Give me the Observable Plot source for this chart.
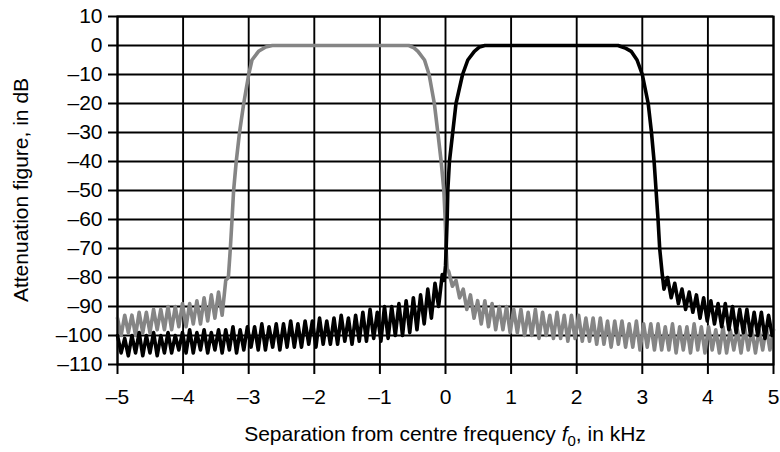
<!DOCTYPE html>
<html><head><meta charset="utf-8">
<script src="https://cdn.jsdelivr.net/npm/d3@7"></script>
<script src="https://cdn.jsdelivr.net/npm/@observablehq/plot@0.6"></script>
<style>body{margin:0;background:#fff;}</style>
</head><body><div id="chart"></div>
<script>
// Tick values
const xTicks = [-5,-4,-3,-2,-1,0,1,2,3,4,5];
const yTicks = [-110,-100,-90,-80,-70,-60,-50,-40,-30,-20,-10,0,10];

// Regularly sampled noise segments (kHz start, sample step in kHz, dB values)
const noiseStep = 0.055;

// Black trace (upper sideband filter)
const blackLeftStart = -5.0;
const blackLeftNoise = [
 -100,-106,-101,-107,-100,-106,-99,-107,-100,-106,
 -99,-107,-100,-106,-99,-106,-100,-105,-99,-106,
 -98,-106,-99,-105,-98,-106,-99,-105,-98,-106,
 -98,-105,-97,-106,-98,-105,-97,-104,-97,-105,
 -96,-105,-97,-104,-96,-105,-96,-104,-95,-104,
 -96,-104,-95,-103,-95,-104,-94,-103,-95,-103,
 -94,-103,-93,-102,-94,-103,-93,-102,-92,-102,
 -91,-101,-92,-102,-90,-101,-90,-100,-89,-100,
 -88,-99,-87,-98,-86,-96,-84,-94,-82,-90,
 -79];
const blackEdgeX = [-0.02,0.0,0.01,0.025,0.035,0.06,0.11,0.16,0.26,0.34,0.44,0.52,0.6,
  2.63,2.75,2.83,2.92,3.0,3.09,3.14,3.18,3.21,3.24,3.265,3.3];
const blackEdgeY = [-81,-76,-70,-60,-50,-40,-30,-20,-10,-5,-2,-0.5,0,
  0,-1,-2,-5,-10,-20,-30,-40,-50,-60,-70,-78];
const blackRightStart = 3.33;
const blackRightNoise = [
 -84,-80,-87,-82,-89,-84,-91,-85,-92,-86,
 -94,-87,-95,-88,-96,-89,-97,-89,-98,-90,
 -99,-91,-99,-91,-100,-92,-100,-92,-101,-93,
 -100];

// Grey trace (lower sideband filter)
const greyLeftStart = -5.0;
const greyLeftNoise = [
 -94,-100,-93,-99,-93,-100,-92,-99,-92,-99,
 -91,-98,-91,-98,-90,-98,-90,-97,-89,-97,
 -89,-96,-88,-96,-87,-95,-86,-94,-85,-93,
 -81];
const greyEdgeX = [-3.31,-3.28,-3.254,-3.23,-3.19,-3.14,-3.076,-3.0,-2.95,-2.85,-2.74,-2.64,
  -0.56,-0.48,-0.42,-0.32,-0.25,-0.17,-0.117,-0.066,-0.025,-0.005,0.01,0.025];
const greyEdgeY = [-80,-70,-60,-50,-40,-30,-20,-10,-5,-2,-0.5,0,
  0,-0.8,-2,-5,-10,-20,-30,-40,-50,-60,-70,-77];
const greyRightStart = 0.05;
const greyRightNoise = [
 -78,-83,-81,-87,-84,-91,-86,-94,-88,-96,
 -88,-97,-89,-98,-90,-98,-90,-99,-91,-99,
 -91,-100,-92,-100,-91,-101,-92,-100,-93,-101,
 -92,-101,-93,-102,-93,-101,-93,-102,-94,-102,
 -94,-103,-94,-103,-95,-104,-95,-103,-95,-104,
 -96,-104,-95,-105,-96,-104,-96,-105,-96,-105,
 -97,-105,-96,-106,-97,-105,-97,-106,-96,-105,
 -97,-106,-97,-105,-98,-106,-97,-106,-98,-105,
 -98,-106,-97,-105,-98,-106,-98,-105,-97,-105,
 -98];

function sampled(start, values) {
  return values.map((v, i) => ({x: +(start + i * noiseStep).toFixed(4), y: v}));
}
function pairs(xs, ys) { return xs.map((x, i) => ({x, y: ys[i]})); }

const black = [...sampled(blackLeftStart, blackLeftNoise), ...pairs(blackEdgeX, blackEdgeY), ...sampled(blackRightStart, blackRightNoise)];
const grey = [...sampled(greyLeftStart, greyLeftNoise), ...pairs(greyEdgeX, greyEdgeY), ...sampled(greyRightStart, greyRightNoise)];

const fmt = d => d < 0 ? "\u2013" + Math.abs(d) : String(d);
const FONT = "'Liberation Sans', Arial, Helvetica, sans-serif";
const FS = 21;

const plot = Plot.plot({
  width: 780,
  height: 452,
  marginLeft: 117,
  marginRight: 7,
  marginTop: 16,
  marginBottom: 88,
  style: {fontFamily: FONT, fontSize: FS + "px", color: "#000", background: "#fff", overflow: "visible"},
  x: {domain: [-5, 5], label: null},
  y: {domain: [-110, 10], label: null},
  marks: [
    Plot.gridX(xTicks, {stroke: "#000", strokeOpacity: 1, strokeWidth: 1.9}),
    Plot.gridY(yTicks, {stroke: "#000", strokeOpacity: 1, strokeWidth: 1.9}),
    Plot.line(grey, {x: "x", y: "y", stroke: "#858585", strokeWidth: 3.6, strokeLinejoin: "round"}),
    Plot.line(black, {x: "x", y: "y", stroke: "#000", strokeWidth: 3.6, strokeLinejoin: "round"}),
    Plot.frame({stroke: "#000", strokeWidth: 2}),
    Plot.axisY(yTicks, {tickSize: 9, tickPadding: 6, tickFormat: fmt, label: null, stroke: "#000", strokeWidth: 2, fontSize: FS}),
    Plot.axisX(xTicks, {tickSize: 10, tickPadding: 15, tickFormat: fmt, label: null, stroke: "#000", strokeWidth: 2, fontSize: FS})
  ]
});

const svg = d3.select(plot);
const xl = svg.append("text")
  .attr("x", 445).attr("y", 441)
  .attr("text-anchor", "middle")
  .style("font-family", FONT).style("font-size", FS + "px").attr("fill", "#000");
xl.append("tspan").text("Separation from centre frequency ");
xl.append("tspan").attr("font-style", "italic").text("f");
xl.append("tspan").attr("dy", 5).style("font-size", "15px").text("0");
xl.append("tspan").attr("dy", -5).text(", in kHz");

svg.append("text")
  .attr("transform", "translate(28,190) rotate(-90)")
  .attr("text-anchor", "middle")
  .style("font-family", FONT).style("font-size", FS + "px").attr("fill", "#000")
  .text("Attenuation figure, in dB");

document.getElementById("chart").appendChild(plot);
</script>
</body></html>
